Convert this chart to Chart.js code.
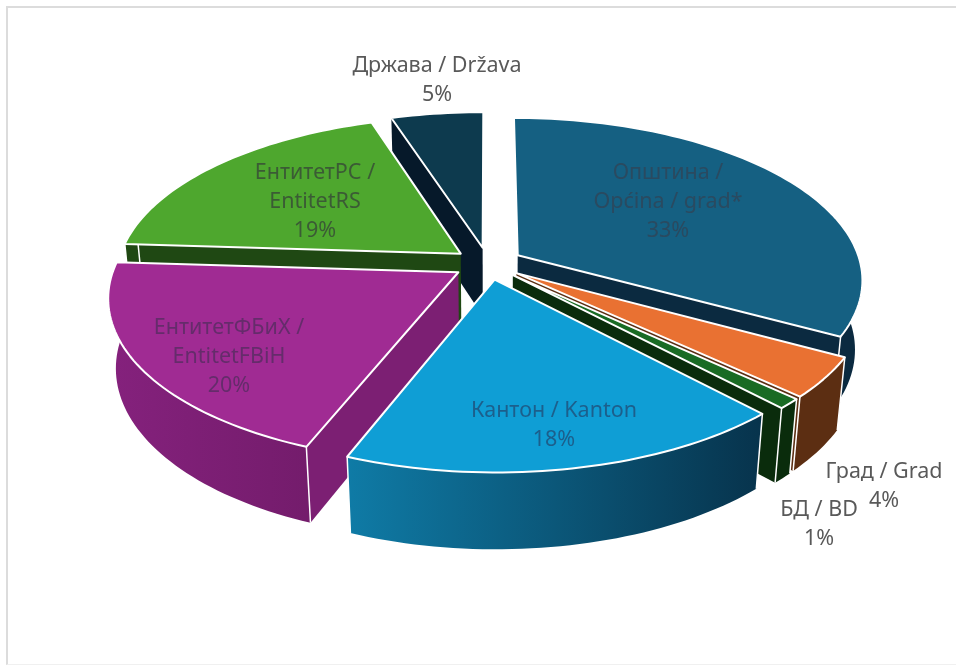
<!DOCTYPE html>
<html>
<head>
<meta charset="utf-8">
<script src="https://cdn.jsdelivr.net/npm/chart.js@4/dist/chart.umd.min.js"></script>
<style>
html, body { margin: 0; padding: 0; background: #fff; }
#wrap { position: relative; width: 956px; height: 666px; overflow: hidden; }
#frame { position: absolute; left: 6px; top: 6px; width: 960px; height: 656px; border-left: 2px solid #dcdcdc; border-top: 2px solid #dcdcdc; border-bottom: 1px solid #f0f0f0; }
#myChart { position: absolute; left: 0; top: 0; }
</style>
</head>
<body>
<div id="wrap">
<div id="frame"></div>
<canvas id="myChart" width="956" height="666"></canvas>
</div>
<script>
// datos
var categorias = ['Општина / Općina / grad*', 'Град / Grad', 'БД / BD', 'Кантон / Kanton', 'ЕнтитетФБиХ / EntitetFBiH', 'ЕнтитетРС / EntitetRS', 'Држава / Država'];
var valores = [33, 4, 1, 18, 20, 19, 5];

// colores de cara superior, pared y borde curvo (inicio, fin)
var colorTop = ['#156082', '#E97132', '#196B24', '#0F9ED5', '#A02B93', '#4EA72E', '#0D3A4E'];
var colorPared = ['#0B2A40', '#5C2E12', '#0A2C0C', '#0B4A6E', '#7C1F73', '#1F4813', '#06192A'];
var colorBordeA = ['#0B2A40', '#5C2E12', '#0A2C0C', '#0F7BA6', '#84217C', '#1F4813', '#06192A'];
var colorBordeB = ['#0B2A40', '#5C2E12', '#0A2C0C', '#07334C', '#741C6C', '#1F4813', '#06192A'];

// etiquetas: líneas, centro en px y color
var etiquetas = [
  ['Општина /', 'Općina / grad*', '33%'],
  ['Град / Grad', '4%'],
  ['БД / BD', '1%'],
  ['Кантон / Kanton', '18%'],
  ['ЕнтитетФБиХ /', 'EntitetFBiH', '20%'],
  ['ЕнтитетРС /', 'EntitetRS', '19%'],
  ['Држава / Država', '5%']
];
var etiquetaX = [668, 884, 819, 554, 229, 315, 437];
var etiquetaY = [173, 472, 510, 411, 328, 173, 66];
var etiquetaColor = ['#2A4A60', '#595959', '#595959', '#1C5F8C', '#652C6B', '#3B5B35', '#595959'];

// cámara de la vista 3D
var cx = 488, cy = 263.5, escX = 343, escY = 159.6, persp = 0.1455, alto = 70.3, pendiente = 0.02;

function proyectar(px, py, z) {
  var w = 1 - persp * py + pendiente * z;
  return { x: cx + escX * px / w, y: cy + (escY * py + alto * z) / w };
}

// puntos del arco de un sector (normalizados al radio)
function puntosArco(arc, z) {
  var R = arc.outerRadius;
  var mitad = (arc.startAngle + arc.endAngle) / 2;
  var desp = (arc.options.offset || 0) / 4 / R;
  var ox = Math.cos(mitad) * desp, oy = Math.sin(mitad) * desp;
  var pasos = Math.max(4, Math.ceil((arc.endAngle - arc.startAngle) * 40));
  var pts = [], frente = [];
  for (var i = 0; i <= pasos; i++) {
    var a = arc.startAngle + (arc.endAngle - arc.startAngle) * i / pasos;
    var p = proyectar(ox + Math.cos(a), oy + Math.sin(a), z);
    pts.push(p);
    // la parte de atrás del borde curvo no se ve
    if (Math.sin(a) > -0.2) { frente.push(p); }
  }
  return { pts: pts, frente: frente, apice: proyectar(ox, oy, z) };
}

function trazar(ctx, pts) {
  ctx.beginPath();
  pts.forEach(function (p, i) {
    if (i === 0) { ctx.moveTo(p.x, p.y); } else { ctx.lineTo(p.x, p.y); }
  });
  ctx.closePath();
}

var pie3d = {
  id: 'pie3d',
  beforeDatasetDraw: function (chart, args) {
    var ctx = chart.ctx;
    var arcos = args.meta.data.map(function (arc, i) { return { arc: arc, i: i }; });
    // de atrás hacia adelante
    arcos.sort(function (a, b) {
      var ma = (a.arc.startAngle + a.arc.endAngle) / 2, mb = (b.arc.startAngle + b.arc.endAngle) / 2;
      return Math.sin(ma) - Math.sin(mb);
    });
    ctx.save();
    ctx.lineJoin = 'round';
    arcos.forEach(function (o) {
      var i = o.i;
      var arriba = puntosArco(o.arc, 0), abajo = puntosArco(o.arc, 1);
      var n = arriba.pts.length - 1;

      // paredes radiales, solo las que miran al frente
      ctx.fillStyle = colorPared[i];
      if (Math.cos(o.arc.startAngle) < -0.001) {
        trazar(ctx, [arriba.apice, arriba.pts[0], abajo.pts[0], abajo.apice]);
        ctx.fill();
      }
      if (Math.cos(o.arc.endAngle) > 0.001) {
        trazar(ctx, [arriba.apice, arriba.pts[n], abajo.pts[n], abajo.apice]);
        ctx.fill();
      }

      // borde curvo con degradado y sus aristas verticales
      var m = arriba.frente.length - 1;
      if (m > 0) {
        var grad = ctx.createLinearGradient(arriba.frente[m].x, 0, arriba.frente[0].x, 0);
        grad.addColorStop(0, colorBordeA[i]);
        grad.addColorStop(1, colorBordeB[i]);
        ctx.fillStyle = grad;
        trazar(ctx, arriba.frente.concat(abajo.frente.slice().reverse()));
        ctx.fill();

        ctx.strokeStyle = '#ffffff';
        ctx.lineWidth = 1.5;
        ctx.beginPath();
        [0, m].forEach(function (k) {
          ctx.moveTo(arriba.frente[k].x, arriba.frente[k].y);
          ctx.lineTo(abajo.frente[k].x, abajo.frente[k].y);
        });
        ctx.stroke();
      }

      // cara superior
      ctx.fillStyle = colorTop[i];
      ctx.strokeStyle = '#ffffff';
      ctx.lineWidth = 2;
      trazar(ctx, [arriba.apice].concat(arriba.pts));
      ctx.fill();
      ctx.stroke();
    });
    ctx.restore();
    return false;
  },
  afterDraw: function (chart) {
    var ctx = chart.ctx;
    ctx.save();
    ctx.font = '21.5px "Noto Sans"';
    ctx.textAlign = 'center';
    ctx.textBaseline = 'middle';
    etiquetas.forEach(function (lineas, i) {
      ctx.fillStyle = etiquetaColor[i];
      lineas.forEach(function (t, j) {
        ctx.fillText(t, etiquetaX[i], etiquetaY[i] + j * 28.8);
      });
    });
    ctx.restore();
  }
};

var ctx = document.getElementById('myChart');
var myChart = new Chart(ctx, {
  type: 'pie',
  data: {
    labels: categorias,
    datasets: [{
      data: valores,
      backgroundColor: colorTop,
      borderColor: '#ffffff',
      offset: 112,
      clip: false
    }]
  },
  options: {
    responsive: false,
    animation: false,
    events: [],
    plugins: {
      legend: { display: false },
      tooltip: { enabled: false }
    }
  },
  plugins: [pie3d]
});
</script>
</body>
</html>
